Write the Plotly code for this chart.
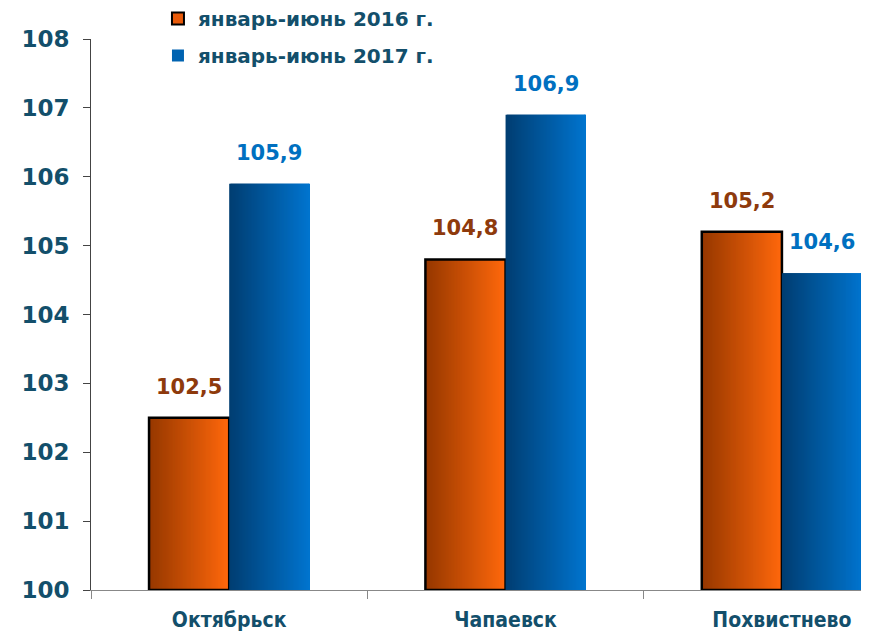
import plotly.graph_objects as go

categories = ["Октябрьск", "Чапаевск", "Похвистнево"]
values_2016 = [102.5, 104.8, 105.2]
values_2017 = [105.9, 106.9, 104.6]
series_names = ["январь-июнь 2016 г.", "январь-июнь 2017 г."]
y_ticks = [100, 101, 102, 103, 104, 105, 106, 107, 108]

BASE = 100
BAR_W = 0.29
N_SLICES = 80
TEXT_COL = "#134F6B"


def lerp(c1, c2, t):
    return "rgb(%d,%d,%d)" % tuple(round(a + (b - a) * t) for a, b in zip(c1, c2))


def fmt(v):
    return f"{v:.1f}".replace(".", ",")


fig = go.Figure()

series = [
    (values_2016, -BAR_W, (150, 56, 0), (255, 104, 12), "#8E3A0C", "#E85A0A", True),
    (values_2017, 0.0, (0, 62, 114), (0, 116, 206), "#0070C0", "#0063B1", False),
]

annotations = []
for idx, (vals, off0, c_left, c_right, lab_col, leg_col, outlined) in enumerate(series):
    lengths = [v - BASE for v in vals]
    sw = BAR_W / N_SLICES
    for i in range(N_SLICES):
        fig.add_trace(go.Bar(
            x=categories, y=lengths, base=BASE,
            width=min(sw * 2.5, BAR_W - i * sw), offset=off0 + i * sw,
            marker=dict(color=lerp(c_left, c_right, i / (N_SLICES - 1)), line=dict(width=0)),
            showlegend=False, hoverinfo="skip",
        ))
    if outlined:
        fig.add_trace(go.Bar(
            x=categories, y=lengths, base=BASE,
            width=BAR_W, offset=off0,
            marker=dict(color="rgba(0,0,0,0)", line=dict(color="black", width=2.5)),
            showlegend=False, hoverinfo="skip",
        ))
    # value labels
    for ci, v in enumerate(vals):
        annotations.append(dict(
            x=ci + off0 + BAR_W / 2, y=v, xref="x", yref="y",
            text=fmt(v), showarrow=False, yanchor="bottom", xanchor="center", yshift=17,
            font=dict(family="DejaVu Sans", size=21, color=lab_col, weight="bold"),
        ))
    # legend entry
    fig.add_trace(go.Bar(
        x=[None], y=[None], name=series_names[idx],
        marker=dict(color=leg_col, line=dict(color="black" if outlined else leg_col, width=2 if outlined else 0)),
        legendgroup=f"g{idx}", showlegend=True,
    ))

# The page adds an 8px body margin, so the layout is shifted by 8px to compensate.
fig.update_layout(
    width=869, height=636,
    margin=dict(l=83, r=0, t=31, b=54, autoexpand=False),
    barmode="overlay",
    plot_bgcolor="white", paper_bgcolor="white",
    font=dict(family="DejaVu Sans", color=TEXT_COL),
    annotations=annotations,
    legend=dict(
        x=0.0852, y=1.0726, xanchor="left", yanchor="top",
        font=dict(family="DejaVu Sans", size=20, color=TEXT_COL, weight="bold"),
        tracegroupgap=8, bgcolor="rgba(0,0,0,0)",
    ),
    xaxis=dict(
        type="category", categoryorder="array", categoryarray=categories,
        range=[-0.5, 2.344], tickson="boundaries", ticks="outside", ticklen=8,
        tickcolor="#888888", showline=True, linecolor="#888888", linewidth=1,
        showgrid=False, zeroline=False, automargin=False,
        tickfont=dict(family="DejaVu Sans Condensed, Liberation Sans Narrow, DejaVu Sans", size=21, color=TEXT_COL, weight="bold"),
        ticklabelstandoff=11,
    ),
    yaxis=dict(
        range=[100, 108], tickvals=y_ticks, ticktext=[str(t) for t in y_ticks],
        ticks="outside", ticklen=7, tickcolor="#444444",
        showline=True, linecolor="#444444", linewidth=1,
        showgrid=False, zeroline=False, automargin=False,
        tickfont=dict(family="DejaVu Sans", size=23, color=TEXT_COL, weight="bold"),
        ticklabelstandoff=9,
    ),
)

fig.write_html("out.html")
